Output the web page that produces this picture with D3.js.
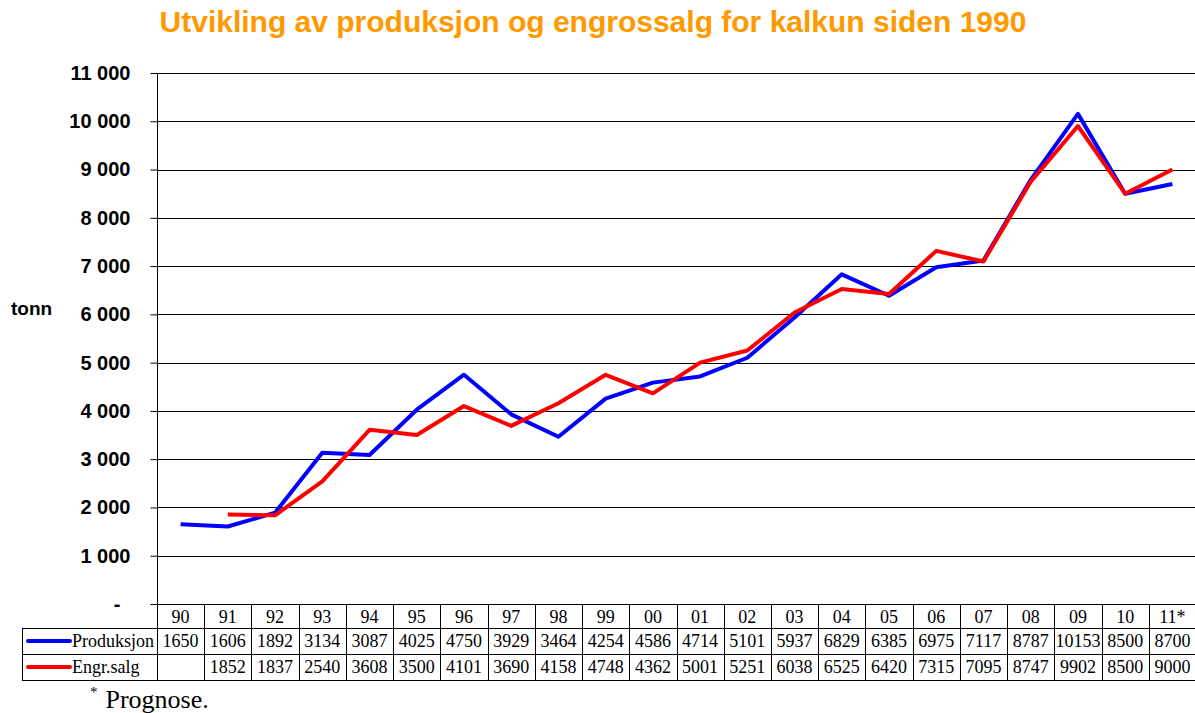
<!DOCTYPE html>
<html>
<head>
<meta charset="utf-8">
<title>Kalkun</title>
<script src="https://cdn.jsdelivr.net/npm/d3@7"></script>
<style>
  body { margin: 0; background: #fff; }
</style>
</head>
<body>
<script>
    // data from the table in the picture
    var years = ["90", "91", "92", "93", "94", "95", "96", "97", "98", "99", "00",
        "01", "02", "03", "04", "05", "06", "07", "08", "09", "10", "11*"];
    var produksjon = [1650, 1606, 1892, 3134, 3087, 4025, 4750, 3929, 3464, 4254, 4586,
        4714, 5101, 5937, 6829, 6385, 6975, 7117, 8787, 10153, 8500, 8700];
    var engrSalg = [null, 1852, 1837, 2540, 3608, 3500, 4101, 3690, 4158, 4748, 4362,
        5001, 5251, 6038, 6525, 6420, 7315, 7095, 8747, 9902, 8500, 9000];
    var yTicks = [0, 1000, 2000, 3000, 4000, 5000, 6000, 7000, 8000, 9000, 10000, 11000];

    var width = 1195, height = 713;
    var plotLeft = 157, plotRight = 1196, plotTop = 73, plotBottom = 604;

    var svg = d3.select("body").append("svg")
        .attr("width", width)
        .attr("height", height);

    var x = d3.scaleBand().domain(years).range([plotLeft, plotRight]);
    var y = d3.scaleLinear().domain([0, 11000]).range([plotBottom, plotTop]);

    // title
    svg.append("text")
        .attr("x", 593).attr("y", 32)
        .attr("text-anchor", "middle")
        .style("font-family", "'Liberation Sans', Arial, sans-serif")
        .style("font-weight", "bold")
        .style("font-size", "30px")
        .style("fill", "#FF9900")
        .text("Utvikling av produksjon og engrossalg for kalkun siden 1990");

    // grid lines
    svg.selectAll(".grid")
        .data(yTicks.filter(function (d) { return d > 0; }))
        .enter().append("line")
        .attr("x1", plotLeft).attr("x2", plotRight)
        .attr("y1", function (d) { return Math.round(y(d)) + 0.5; })
        .attr("y2", function (d) { return Math.round(y(d)) + 0.5; })
        .style("stroke", "#000").style("stroke-width", 1);

    // y axis
    var fmt = function (d) {
        if (d === 0) return "-";
        return d3.format(",")(d).replace(",", " ");
    };
    var yAxis = svg.append("g")
        .attr("transform", "translate(" + (plotLeft + 0.5) + ",0)")
        .call(d3.axisLeft(y).tickValues(yTicks).tickFormat(fmt).tickSize(7).tickPadding(20));
    yAxis.select(".domain").attr("d", "M0," + plotTop + "V" + plotBottom).style("stroke", "#000");
    yAxis.selectAll("text")
        .style("font-family", "'Liberation Sans', Arial, sans-serif")
        .style("font-weight", "bold")
        .style("font-size", "20px")
        .style("fill", "#000")
        .attr("dx", function (d) { return d === 0 ? -10 : 0; });

    svg.append("text")
        .attr("x", 11).attr("y", 315)
        .style("font-family", "'Liberation Sans', Arial, sans-serif")
        .style("font-weight", "bold")
        .style("font-size", "19px")
        .text("tonn");

    // lines
    var line = d3.line()
        .defined(function (d) { return d.v != null; })
        .x(function (d) { return x(d.k) + x.bandwidth() / 2; })
        .y(function (d) { return y(d.v); });

    function series(vals) {
        return years.map(function (k, i) { return { k: k, v: vals[i] }; });
    }

    svg.append("path")
        .datum(series(produksjon))
        .attr("d", line)
        .style("fill", "none").style("stroke", "#0000FF").style("stroke-width", 4)
        .style("stroke-linejoin", "round");
    svg.append("path")
        .datum(series(engrSalg))
        .attr("d", line)
        .style("fill", "none").style("stroke", "#FF0000").style("stroke-width", 4)
        .style("stroke-linejoin", "round");

    // data table
    var rowTop = [604, 628, 654, 680];
    var tableLeft = 22;
    var tfont = "'Liberation Serif', 'Times New Roman', serif";
    var tbl = svg.append("g").style("stroke", "#000").style("stroke-width", 1);

    // horizontal rules
    tbl.append("line").attr("x1", plotLeft).attr("x2", plotRight)
        .attr("y1", rowTop[0] + 0.5).attr("y2", rowTop[0] + 0.5);
    [1, 2, 3].forEach(function (r) {
        tbl.append("line").attr("x1", tableLeft).attr("x2", plotRight)
            .attr("y1", rowTop[r] + 0.5).attr("y2", rowTop[r] + 0.5);
    });
    // vertical rules
    tbl.append("line").attr("x1", tableLeft + 0.5).attr("x2", tableLeft + 0.5)
        .attr("y1", rowTop[1]).attr("y2", rowTop[3]);
    tbl.selectAll(".vcol")
        .data(years)
        .enter().append("line")
        .attr("x1", function (d) { return Math.round(x(d)) + 0.5; })
        .attr("x2", function (d) { return Math.round(x(d)) + 0.5; })
        .attr("y1", rowTop[0]).attr("y2", rowTop[3]);

    function cellText(vals, r) {
        svg.selectAll(".c" + r)
            .data(years.map(function (k, i) { return { k: k, v: vals[i] }; }))
            .enter().append("text")
            .attr("x", function (d) { return x(d.k) + x.bandwidth() / 2; })
            .attr("y", rowTop[r] + 19)
            .attr("text-anchor", "middle")
            .style("font-family", tfont)
            .style("font-size", "18px")
            .text(function (d) { return d.v == null ? "" : d.v; });
    }
    cellText(years, 0);
    cellText(produksjon, 1);
    cellText(engrSalg, 2);

    // legend keys inside the table
    var legend = [["Produksjon", "#0000FF"], ["Engr.salg", "#FF0000"]];
    legend.forEach(function (l, i) {
        var cy = (rowTop[i + 1] + rowTop[i + 2]) / 2;
        svg.append("line")
            .attr("x1", 28).attr("x2", 70).attr("y1", cy).attr("y2", cy)
            .style("stroke", l[1]).style("stroke-width", 4).style("stroke-linecap", "round");
        svg.append("text")
            .attr("x", 72).attr("y", rowTop[i + 1] + 19)
            .style("font-family", tfont)
            .style("font-size", "18px")
            .text(l[0]);
    });

    // footnote
    var fn = svg.append("text")
        .attr("x", 90).attr("y", 708)
        .style("font-family", tfont)
        .style("font-size", "26px");
    fn.append("tspan").attr("dy", -11).style("font-size", "15px").text("*");
    fn.append("tspan").attr("dy", 11).attr("dx", 8).text("Prognose.");
</script>
</body>
</html>
